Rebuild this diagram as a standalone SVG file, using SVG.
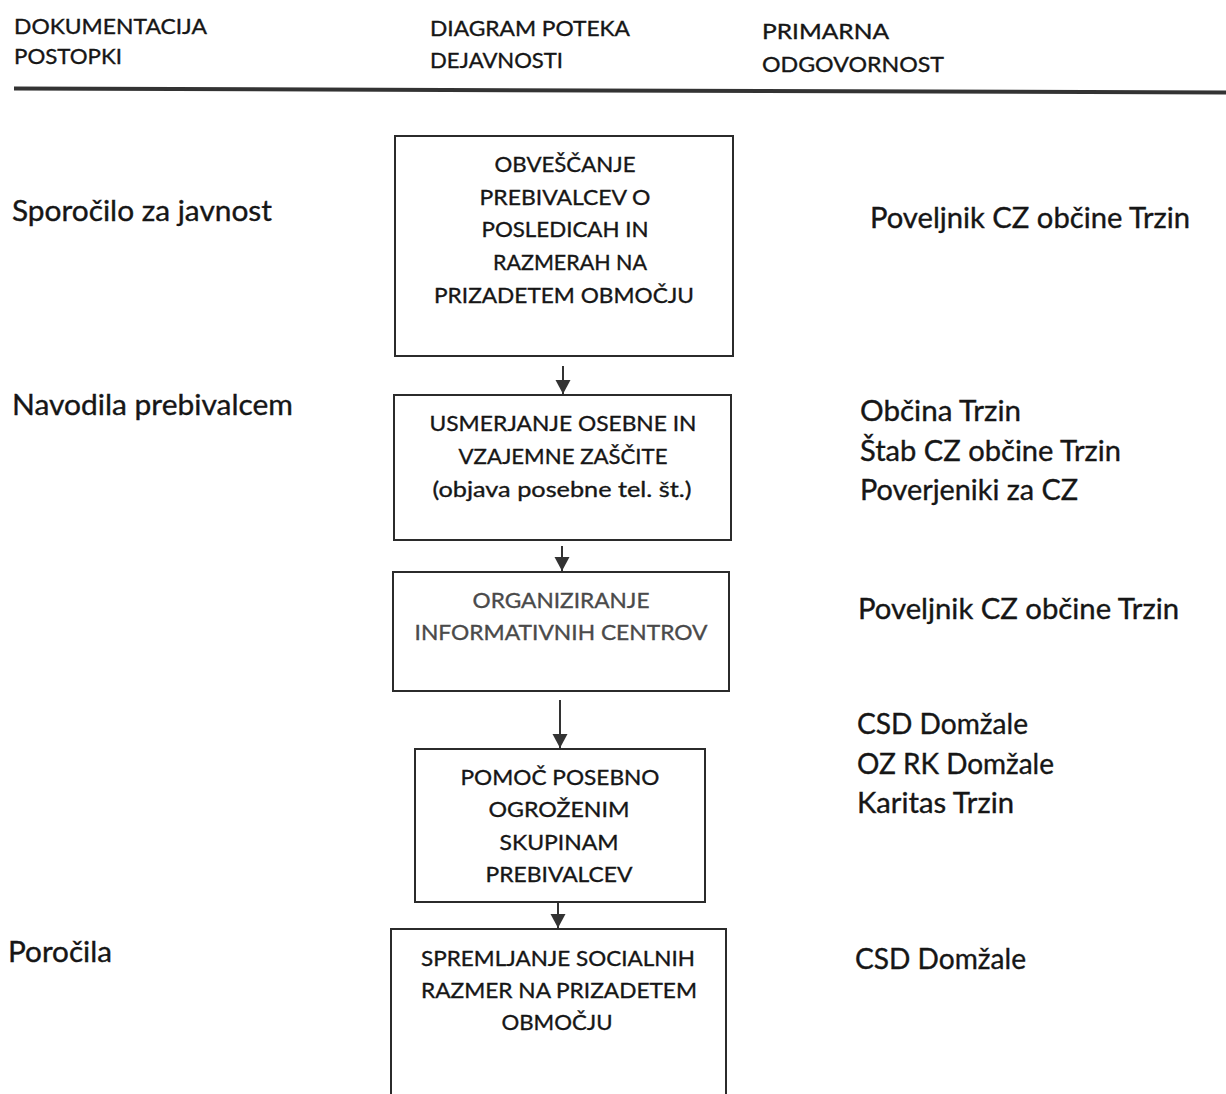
<svg xmlns="http://www.w3.org/2000/svg" width="1226" height="1094" viewBox="0 0 1226 1094">
<defs>
<style>
text{font-family:Lato,"Open Sans","Liberation Sans",sans-serif;fill:#161616;stroke:#161616;stroke-width:0.35}
.h{font-size:21px}
.s{font-size:28px}
.b{font-size:22px;text-anchor:middle}
.g{fill:#4a4a4a;stroke:#4a4a4a}
.box{fill:none;stroke:#2b2b2b;stroke-width:2}
.conn{stroke:#333;stroke-width:2;fill:none}
</style>
<marker id="ah" markerUnits="userSpaceOnUse" markerWidth="16" markerHeight="16" refX="14" refY="7.5" orient="auto">
<path d="M0,0 L14,7.5 L0,15 Z" fill="#333"/>
</marker>
</defs>
<rect width="1226" height="1094" fill="#fff"/>
<g id="header">
<text class="h" x="14" y="34" textLength="193" lengthAdjust="spacingAndGlyphs">DOKUMENTACIJA</text>
<text class="h" x="14" y="64" textLength="108" lengthAdjust="spacingAndGlyphs">POSTOPKI</text>
<text class="h" x="430" y="36" textLength="200" lengthAdjust="spacingAndGlyphs">DIAGRAM POTEKA</text>
<text class="h" x="430" y="68" textLength="133" lengthAdjust="spacingAndGlyphs">DEJAVNOSTI</text>
<text class="h" x="762" y="39" textLength="127" lengthAdjust="spacingAndGlyphs">PRIMARNA</text>
<text class="h" x="762" y="72" textLength="182" lengthAdjust="spacingAndGlyphs">ODGOVORNOST</text>
<path d="M14,86.5 L1226,90.5 L1226,94.5 L14,90.5 Z" fill="#333"/>
</g>
<g id="docs">
<text class="s" x="12" y="221" textLength="260" lengthAdjust="spacingAndGlyphs">Sporočilo za javnost</text>
<text class="s" x="12" y="415" textLength="281" lengthAdjust="spacingAndGlyphs">Navodila prebivalcem</text>
<text class="s" x="8" y="962" textLength="104" lengthAdjust="spacingAndGlyphs">Poročila</text>
</g>
<g id="resp">
<text class="s" x="870" y="228" textLength="320" lengthAdjust="spacingAndGlyphs">Poveljnik CZ občine Trzin</text>
<text class="s" x="860" y="421" textLength="161" lengthAdjust="spacingAndGlyphs">Občina Trzin</text>
<text class="s" x="860" y="461" textLength="261" lengthAdjust="spacingAndGlyphs">Štab CZ občine Trzin</text>
<text class="s" x="860" y="500" textLength="218" lengthAdjust="spacingAndGlyphs">Poverjeniki za CZ</text>
<text class="s" x="858" y="619" textLength="321" lengthAdjust="spacingAndGlyphs">Poveljnik CZ občine Trzin</text>
<text class="s" x="857" y="734" textLength="171" lengthAdjust="spacingAndGlyphs">CSD Domžale</text>
<text class="s" x="857" y="774" textLength="197" lengthAdjust="spacingAndGlyphs">OZ RK Domžale</text>
<text class="s" x="857" y="813" textLength="157" lengthAdjust="spacingAndGlyphs">Karitas Trzin</text>
<text class="s" x="855" y="969" textLength="171" lengthAdjust="spacingAndGlyphs">CSD Domžale</text>
</g>
<g id="node1">
<rect class="box" x="395" y="136" width="338" height="220"/>
<text class="b" x="565" y="172" textLength="141" lengthAdjust="spacingAndGlyphs">OBVEŠČANJE</text>
<text class="b" x="565" y="205" textLength="171" lengthAdjust="spacingAndGlyphs">PREBIVALCEV O</text>
<text class="b" x="565" y="237" textLength="167" lengthAdjust="spacingAndGlyphs">POSLEDICAH IN</text>
<text class="b" x="570" y="270" textLength="154" lengthAdjust="spacingAndGlyphs">RAZMERAH NA</text>
<text class="b" x="564" y="303" textLength="260" lengthAdjust="spacingAndGlyphs">PRIZADETEM OBMOČJU</text>
</g>
<g id="node2">
<rect class="box" x="394" y="395" width="337" height="145"/>
<text class="b" x="563" y="431" textLength="267" lengthAdjust="spacingAndGlyphs">USMERJANJE OSEBNE IN</text>
<text class="b" x="563" y="464" textLength="209" lengthAdjust="spacingAndGlyphs">VZAJEMNE ZAŠČITE</text>
<text class="b" x="562" y="497" textLength="259" lengthAdjust="spacingAndGlyphs">(objava posebne tel. št.)</text>
</g>
<g id="node3">
<rect class="box" x="393" y="572" width="336" height="119"/>
<text class="b g" x="561" y="608" textLength="177" lengthAdjust="spacingAndGlyphs">ORGANIZIRANJE</text>
<text class="b g" x="561" y="640" textLength="293" lengthAdjust="spacingAndGlyphs">INFORMATIVNIH CENTROV</text>
</g>
<g id="node4">
<rect class="box" x="415" y="749" width="290" height="153"/>
<text class="b" x="560" y="785" textLength="199" lengthAdjust="spacingAndGlyphs">POMOČ POSEBNO</text>
<text class="b" x="559" y="817" textLength="141" lengthAdjust="spacingAndGlyphs">OGROŽENIM</text>
<text class="b" x="559" y="850" textLength="119" lengthAdjust="spacingAndGlyphs">SKUPINAM</text>
<text class="b" x="559" y="882" textLength="147" lengthAdjust="spacingAndGlyphs">PREBIVALCEV</text>
</g>
<g id="node5">
<path class="box" d="M391,1094 V929 H726 V1094"/>
<text class="b" x="558" y="966" textLength="274" lengthAdjust="spacingAndGlyphs">SPREMLJANJE SOCIALNIH</text>
<text class="b" x="559" y="998" textLength="276" lengthAdjust="spacingAndGlyphs">RAZMER NA PRIZADETEM</text>
<text class="b" x="557" y="1030" textLength="111" lengthAdjust="spacingAndGlyphs">OBMOČJU</text>
</g>
<g id="connectors">
<line class="conn" x1="563" y1="366" x2="563" y2="394" marker-end="url(#ah)"/>
<line class="conn" x1="562" y1="546" x2="562" y2="571" marker-end="url(#ah)"/>
<line class="conn" x1="560" y1="700" x2="560" y2="748" marker-end="url(#ah)"/>
<line class="conn" x1="558" y1="903" x2="558" y2="928" marker-end="url(#ah)"/>
</g>
</svg>
